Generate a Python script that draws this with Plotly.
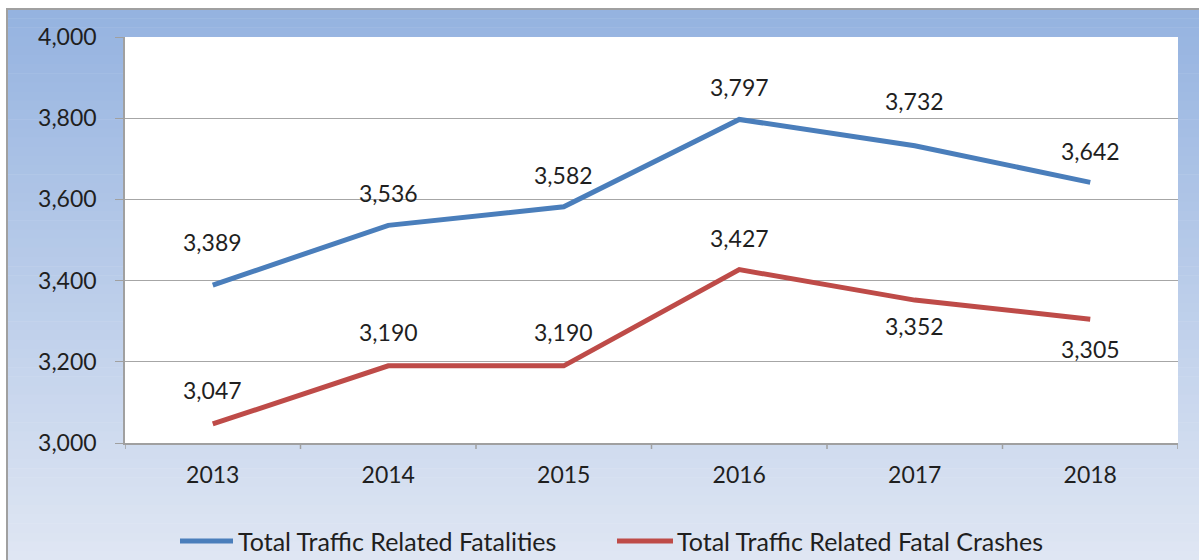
import plotly.graph_objects as go

years = ["2013", "2014", "2015", "2016", "2017", "2018"]
fatalities = [3389, 3536, 3582, 3797, 3732, 3642]
crashes = [3047, 3190, 3190, 3427, 3352, 3305]
series_names = ["Total Traffic Related Fatalities", "Total Traffic Related Fatal Crashes"]
y_ticks = [3000, 3200, 3400, 3600, 3800, 4000]

# label offsets (pixels, positive = up) to mimic the manual label placement
fat_shift = [43, 32, 32, 32, 45, 31]
cr_shift = [34, 34, 34, 32, -26, -30]

W, H = 1199, 560
L, R, T, B = 125, 1178, 37, 443
pw, ph = R - L, B - T

def px_x(p):
    return (p - L) / pw

def px_y(p):
    return (B - p) / ph

BLUE = "#4a7ebb"
RED = "#be4b48"
FONT = "Lato"
TXT = "#1f1f1f"
FS = 23
FS_LEG = 25

fig = go.Figure()
fig.add_trace(go.Scatter(x=list(range(len(years))), y=fatalities, mode="lines", name=series_names[0],
                         line=dict(color=BLUE, width=5), showlegend=False))
fig.add_trace(go.Scatter(x=list(range(len(years))), y=crashes, mode="lines", name=series_names[1],
                         line=dict(color=RED, width=5), showlegend=False))

shapes = []
# gradient background
top_c = (149, 179, 224)
bot_c = (223, 230, 243)
y_start, y_end = 9, 560
n = 60
for i in range(n):
    p0 = y_start + (y_end - y_start) * i / n
    p1 = y_start + (y_end - y_start) * (i + 1) / n + 0.5
    t = i / (n - 1)
    c = tuple(round(top_c[k] + (bot_c[k] - top_c[k]) * t) for k in range(3))
    shapes.append(dict(type="rect", xref="paper", yref="paper",
                       x0=px_x(7), x1=px_x(W + 5), y0=px_y(p1), y1=px_y(p0),
                       fillcolor="rgb(%d,%d,%d)" % c, line=dict(width=0), layer="below"))
# outer border
shapes.append(dict(type="rect", xref="paper", yref="paper",
                   x0=px_x(7), x1=px_x(W + 5), y0=px_y(H + 5), y1=px_y(9),
                   fillcolor="rgba(0,0,0,0)", line=dict(color="#a0a0a0", width=2), layer="below"))
# white plot area
shapes.append(dict(type="rect", xref="paper", yref="paper", x0=0, x1=1, y0=0, y1=1,
                   fillcolor="white", line=dict(width=0), layer="below"))

annotations = []
for i, (yv, s) in enumerate(zip(fatalities, fat_shift)):
    annotations.append(dict(x=i, y=yv, xref="x", yref="y", text=f"{yv:,}", showarrow=False, yshift=s,
                            font=dict(family=FONT, size=FS, color=TXT)))
for i, (yv, s) in enumerate(zip(crashes, cr_shift)):
    annotations.append(dict(x=i, y=yv, xref="x", yref="y", text=f"{yv:,}", showarrow=False, yshift=s,
                            font=dict(family=FONT, size=FS, color=TXT)))

# custom legend
leg_y = px_y(541)
for (sx0, sx1, tx), name, col in zip([(180, 233, 236), (617, 673, 675)], series_names, [BLUE, RED]):
    shapes.append(dict(type="line", xref="paper", yref="paper", x0=px_x(sx0), x1=px_x(sx1),
                       y0=leg_y, y1=leg_y, line=dict(color=col, width=5)))
    annotations.append(dict(x=px_x(tx), y=leg_y, xref="paper", yref="paper", text=name,
                            showarrow=False, xanchor="left", yanchor="middle",
                            font=dict(family=FONT, size=FS_LEG, color=TXT)))

fig.update_layout(
    width=W, height=H,
    margin=dict(l=L, r=W - R, t=T, b=H - B, pad=0, autoexpand=False),
    paper_bgcolor="white",
    plot_bgcolor="white",
    font=dict(family=FONT, size=FS, color=TXT),
    shapes=shapes,
    annotations=annotations,
    showlegend=False,
    xaxis=dict(tickmode="array", tickvals=list(range(len(years))), ticktext=years,
               range=[-0.5, len(years) - 0.5],
               showgrid=False, showline=True, linecolor="#a0a0a0", linewidth=1.5,
               ticks="", ticklabelstandoff=11, tickfont=dict(family=FONT, size=FS, color=TXT),
               zeroline=False, fixedrange=True, automargin=False),
    yaxis=dict(range=[3000, 4000], tickvals=y_ticks, tickformat=",d",
               showgrid=True, gridcolor="#a6a6a6", gridwidth=1.2,
               showline=True, linecolor="#a0a0a0", linewidth=1.5,
               ticks="outside", ticklen=8, tickcolor="#a0a0a0",
               ticklabelstandoff=14, tickfont=dict(family=FONT, size=FS, color=TXT),
               zeroline=False, fixedrange=True, automargin=False),
)

# category-boundary tick marks on the x axis
for b in range(len(years) + 1):
    fig.add_shape(type="line", xref="x", yref="paper", x0=b - 0.5, x1=b - 0.5,
                  y0=0, y1=-6 / ph, line=dict(color="#a0a0a0", width=1.5))

fig.write_html(
    "out.html",
    config={"displayModeBar": False},
    post_script="document.body.style.margin='0';document.body.style.overflow='hidden';",
)
